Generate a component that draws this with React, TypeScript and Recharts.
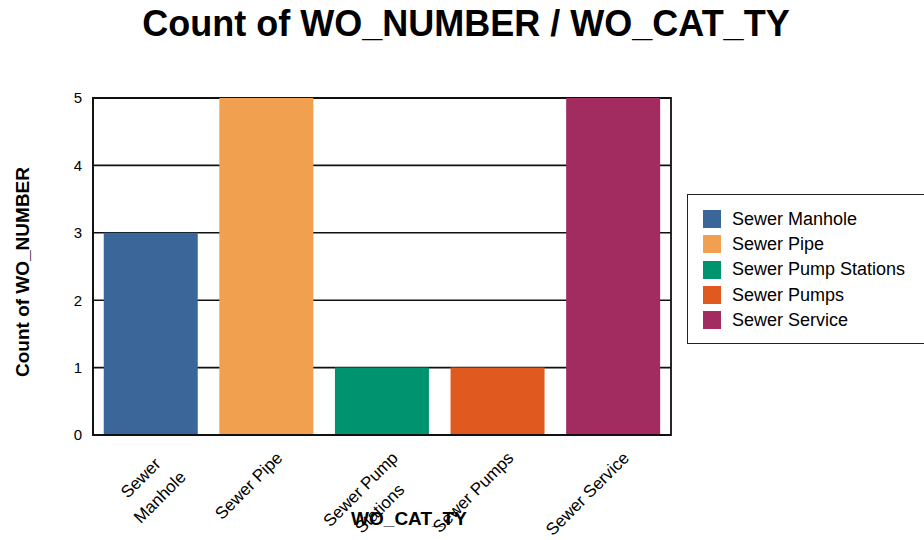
import { BarChart, Bar, XAxis, YAxis, CartesianGrid, Cell, Legend, ReferenceArea } from "recharts";

const categories = ["Sewer Manhole", "Sewer Pipe", "Sewer Pump Stations", "Sewer Pumps", "Sewer Service"];
const counts = [3, 5, 1, 1, 5];
const tickLines = [["Sewer", "Manhole"], ["Sewer Pipe"], ["Sewer Pump", "Stations"], ["Sewer Pumps"], ["Sewer Service"]];
const yTicks = [0, 1, 2, 3, 4, 5];
const colors = ["#3b6699", "#f0a04f", "#00936f", "#e05a20", "#a22b5f"];

const data = categories.map((name, i) => ({ name, count: counts[i] }));

const FONT = "'Liberation Sans', Arial, sans-serif";
const TICK_SIZE = 17;

let ctx: CanvasRenderingContext2D | null = null;
const textWidth = (s: string) => {
  if (!ctx) ctx = document.createElement("canvas").getContext("2d");
  if (!ctx) return s.length * TICK_SIZE * 0.5;
  ctx.font = `${TICK_SIZE}px 'Liberation Sans'`;
  return ctx.measureText(s).width;
};

// rotated category label: lines centred on each other, widest line ends at the anchor
const XTick = (props: any) => {
  const { x, y, index } = props;
  const lines = tickLines[index] || [];
  const w = Math.max(...lines.map(textWidth));
  return (
    <g transform={`translate(${x + 17},${y + 16}) rotate(-45)`}>
      {lines.map((l, i) => (
        <text key={i} x={-w / 2} y={i * 27} textAnchor="middle" fontSize={TICK_SIZE} fontFamily={FONT} fill="#000">
          {l}
        </text>
      ))}
    </g>
  );
};

const LegendBox = () => (
  <div
    style={{
      position: "absolute",
      left: 687,
      top: 194,
      width: 250,
      height: 150,
      border: "1.5px solid #222",
      boxSizing: "border-box",
      fontFamily: FONT,
      fontSize: 18,
      paddingTop: 11.5,
      paddingLeft: 15,
    }}
  >
    {categories.map((c, i) => (
      <div key={c} style={{ display: "flex", alignItems: "center", height: 25.3 }}>
        <span style={{ width: 18, height: 18, background: colors[i], display: "inline-block", marginRight: 11, flex: "none" }} />
        <span style={{ whiteSpace: "nowrap" }}>{c}</span>
      </div>
    ))}
  </div>
);

export default function App() {
  return (
    <div style={{ position: "absolute", left: 0, top: 0, width: 924, height: 540, background: "#fff", fontFamily: FONT }}>
      <div style={{ position: "absolute", left: 0, top: 3, width: 932, textAlign: "center", fontSize: 36, fontWeight: "bold" }}>
        Count of WO_NUMBER / WO_CAT_TY
      </div>
      <BarChart width={924} height={540} data={data} margin={{ top: 98, right: 253, bottom: 0, left: 53 }} barCategoryGap="9.3%">
        <CartesianGrid vertical={false} stroke="#111" strokeWidth={1.6} />
        <ReferenceArea y1={0} y2={5} stroke="#111" strokeWidth={1.8} fill="none" ifOverflow="visible" />
        <XAxis
          dataKey="name"
          interval={0}
          height={105}
          tick={<XTick />}
          tickLine={false}
          axisLine={{ stroke: "#111", strokeWidth: 1.8 }}
        />
        <YAxis
          domain={[0, 5]}
          ticks={yTicks}
          width={40}
          tickLine={false}
          tickMargin={5}
          axisLine={{ stroke: "#111", strokeWidth: 1.8 }}
          tick={{ fill: "#000", fontSize: 15, fontFamily: FONT }}
        />
        <Legend content={() => <LegendBox />} wrapperStyle={{ position: "absolute", left: 0, top: 0, width: 0, height: 0 }} />
        <Bar dataKey="count" isAnimationActive={false}>
          {data.map((d, i) => (
            <Cell key={d.name} fill={colors[i]} />
          ))}
        </Bar>
      </BarChart>
      <div style={{ position: "absolute", left: 309, top: 508, width: 200, textAlign: "center", fontSize: 19, fontWeight: "bold" }}>
        WO_CAT_TY
      </div>
      <div
        style={{
          position: "absolute",
          left: 23,
          top: 272,
          transform: "translate(-50%, -50%) rotate(-90deg)",
          whiteSpace: "nowrap",
          fontSize: 19,
          fontWeight: "bold",
        }}
      >
        Count of WO_NUMBER
      </div>
    </div>
  );
}
